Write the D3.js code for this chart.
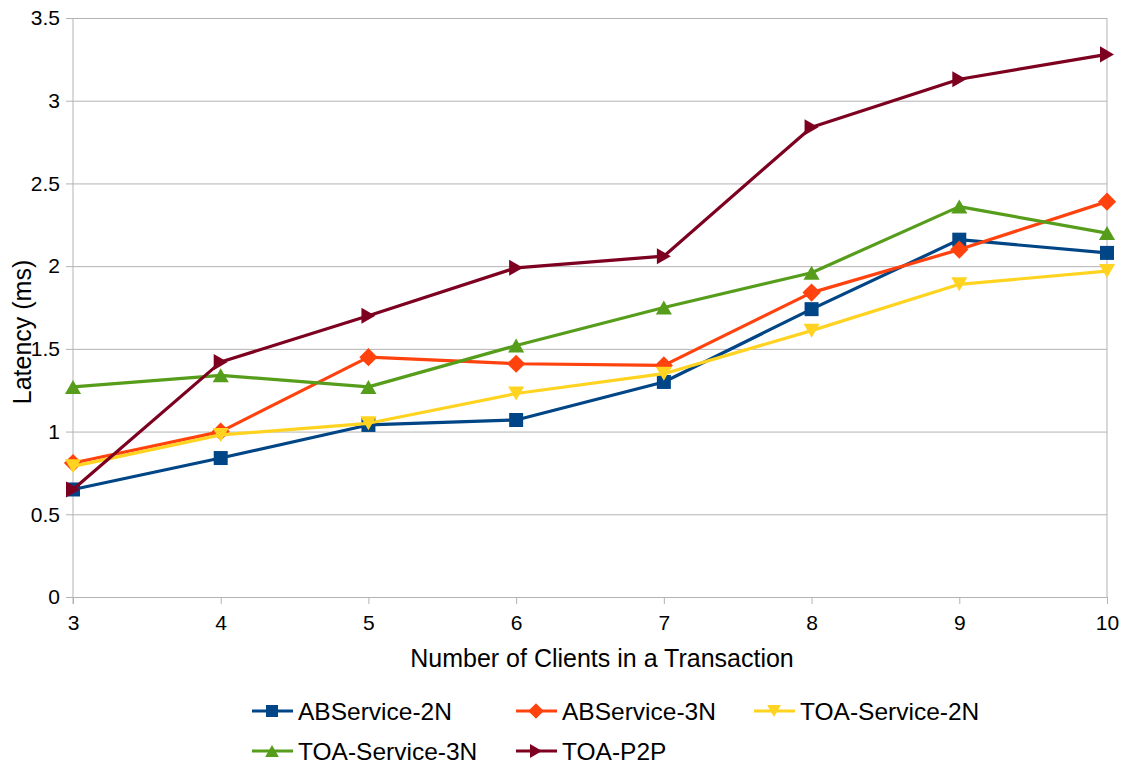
<!DOCTYPE html>
<html>
<head>
<meta charset="utf-8">
<script src="https://cdn.jsdelivr.net/npm/d3@7"></script>
<style>
  html, body { margin: 0; padding: 0; background: #fff; }
  svg { display: block; font-family: "Liberation Sans", Arial, sans-serif; }
</style>
</head>
<body>
<svg id="chart" width="1126" height="763"></svg>
<script>
// Number of clients per transaction
const clients = [3, 4, 5, 6, 7, 8, 9, 10];

// Latency (ms) per configuration
const abService2N   = [0.65, 0.84, 1.04, 1.07, 1.30, 1.74, 2.16, 2.08];
const abService3N   = [0.81, 1.00, 1.45, 1.41, 1.40, 1.84, 2.10, 2.39];
const toaService2N  = [0.79, 0.98, 1.05, 1.23, 1.35, 1.61, 1.89, 1.97];
const toaService3N  = [1.27, 1.34, 1.27, 1.52, 1.75, 1.96, 2.36, 2.20];
const toaP2P        = [0.65, 1.42, 1.70, 1.99, 2.06, 2.84, 3.13, 3.28];

const yTicks = [0, 0.5, 1, 1.5, 2, 2.5, 3, 3.5];

const series = [
  { name: "ABService-2N",   values: abService2N,  color: "#004586", shape: "square" },
  { name: "ABService-3N",   values: abService3N,  color: "#ff420e", shape: "diamond" },
  { name: "TOA-Service-2N", values: toaService2N, color: "#ffd320", shape: "down" },
  { name: "TOA-Service-3N", values: toaService3N, color: "#579d1c", shape: "up" },
  { name: "TOA-P2P",        values: toaP2P,       color: "#7e0021", shape: "right" }
];

const svg = d3.select("#chart");
const margin = { left: 73, right: 19, top: 18, bottom: 166 };
const W = 1126, H = 763;
const x = d3.scaleLinear().domain([3, 10]).range([margin.left, W - margin.right]);
const y = d3.scaleLinear().domain([0, 3.5]).range([H - margin.bottom, margin.top]);

const grid = "#b3b3b3";
const font = "Liberation Sans, Arial, sans-serif";

// Horizontal gridlines with short outer ticks
svg.append("g")
  .attr("transform", `translate(${margin.left},0)`)
  .call(d3.axisLeft(y).tickValues(yTicks).tickSize(7).tickFormat(d3.format("")))
  .call(g => g.select(".domain").remove())
  .call(g => g.selectAll(".tick line").attr("stroke", grid).attr("x1", -7).attr("x2", x(10) - margin.left))
  .call(g => g.selectAll(".tick text").attr("x", -13).attr("font-size", 21)
    .attr("fill", "#000").attr("font-family", font));

// Right frame line
svg.append("line")
  .attr("x1", x(10)).attr("x2", x(10))
  .attr("y1", y(3.5)).attr("y2", y(0))
  .attr("stroke", grid);

// X axis
svg.append("g")
  .attr("transform", `translate(0,${y(0)})`)
  .call(d3.axisBottom(x).tickValues(clients).tickSize(7).tickSizeOuter(0).tickFormat(d3.format("d")))
  .call(g => g.select(".domain").attr("stroke", grid))
  .call(g => g.selectAll(".tick line").attr("stroke", grid))
  .call(g => g.selectAll(".tick text").attr("y", 18).attr("font-size", 21)
    .attr("fill", "#000").attr("font-family", font));

// Y axis line
svg.append("line")
  .attr("x1", x(3)).attr("x2", x(3))
  .attr("y1", y(3.5)).attr("y2", y(0) + 7)
  .attr("stroke", grid);

// Axis titles
svg.append("text")
  .attr("x", 602).attr("y", 667)
  .attr("text-anchor", "middle").attr("font-size", 25)
  .text("Number of Clients in a Transaction");

svg.append("text")
  .attr("transform", `translate(31,332) rotate(-90)`)
  .attr("text-anchor", "middle").attr("font-size", 25)
  .text("Latency (ms)");

// Marker path generator
function markerPath(shape, s) {
  switch (shape) {
    case "square":  return `M${-s},${-s}H${s}V${s}H${-s}Z`;
    case "diamond": return `M0,${-s * 1.3}L${s * 1.3},0L0,${s * 1.3}L${-s * 1.3},0Z`;
    case "down":    return `M${-s * 1.15},${-s}L${s * 1.15},${-s}L0,${s}Z`;
    case "up":      return `M${-s * 1.15},${s}L${s * 1.15},${s}L0,${-s}Z`;
    case "right":   return `M${-s},${-s * 1.15}L${s},0L${-s},${s * 1.15}Z`;
  }
}

const line = d3.line().x((d, i) => x(clients[i])).y(d => y(d));

series.forEach(s => {
  const g = svg.append("g");
  g.append("path")
    .attr("d", line(s.values))
    .attr("fill", "none")
    .attr("stroke", s.color)
    .attr("stroke-width", 3.2)
    .attr("stroke-linejoin", "round");
  g.selectAll("path.m")
    .data(s.values)
    .join("path")
    .attr("class", "m")
    .attr("transform", (d, i) => `translate(${x(clients[i])},${y(d)})`)
    .attr("d", markerPath(s.shape, 7))
    .attr("fill", s.color);
});

// Legend
const legendPos = [
  { x: 252, y: 711 }, { x: 516, y: 711 }, { x: 754, y: 711 },
  { x: 252, y: 751 }, { x: 516, y: 751 }
];
series.forEach((s, i) => {
  const p = legendPos[i];
  const g = svg.append("g").attr("transform", `translate(${p.x},${p.y})`);
  g.append("line").attr("x1", 0).attr("x2", 41).attr("stroke", s.color).attr("stroke-width", 3);
  g.append("path").attr("transform", "translate(20,0)").attr("d", markerPath(s.shape, 6)).attr("fill", s.color);
  g.append("text").attr("x", 46).attr("y", 8.5).attr("font-size", 24.5).text(s.name);
});
</script>
</body>
</html>
